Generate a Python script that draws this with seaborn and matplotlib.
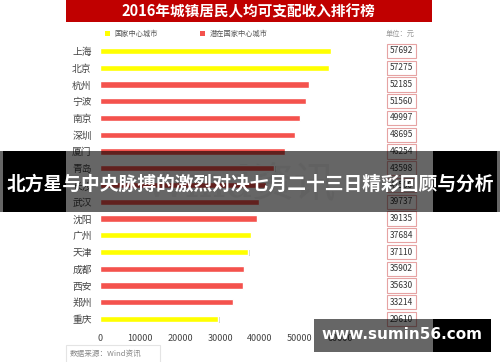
import matplotlib
matplotlib.use("Agg")
import matplotlib.pyplot as plt
import matplotlib.patheffects as pe
from matplotlib.patches import Rectangle
from matplotlib.transforms import blended_transform_factory
import pandas as pd
import seaborn as sns

cities = ["上海", "北京", "杭州", "宁波", "南京", "深圳", "厦门", "青岛", "长沙",
          "武汉", "沈阳", "广州", "天津", "成都", "西安", "郑州", "重庆"]
income = [57692, 57275, 52185, 51560, 49997, 48695, 46254, 43598, 41500,
          39737, 39135, 37684, 37110, 35902, 35630, 33214, 29610]
kind = ["国家中心城市", "国家中心城市", "潜在国家中心城市", "潜在国家中心城市",
        "潜在国家中心城市", "潜在国家中心城市", "潜在国家中心城市", "潜在国家中心城市",
        "潜在国家中心城市", "潜在国家中心城市", "潜在国家中心城市", "国家中心城市",
        "国家中心城市", "潜在国家中心城市", "潜在国家中心城市", "潜在国家中心城市",
        "国家中心城市"]
xticks = [0, 10000, 20000, 30000, 40000, 50000, 60000]

palette = {"国家中心城市": "#FFFF00", "潜在国家中心城市": "#F4524D"}

df = pd.DataFrame({"city": cities, "income": income, "kind": kind})

sns.set_style("white")
plt.rcParams["font.family"] = ["Noto Sans CJK SC", "DejaVu Sans"]

fig = plt.figure(figsize=(5.0, 3.62), dpi=100)
ax = fig.add_axes([0.2, 0.0956, 0.56, 0.7867])

sns.barplot(data=df, x="income", y="city", hue="kind", order=cities,
            palette=palette, dodge=False, width=0.36, ax=ax, legend=False,
            saturation=1)
for bar in ax.patches:
    bar.set_path_effects([pe.SimplePatchShadow(offset=(0.8, -0.8), shadow_rgbFace="#bbbbbb", alpha=0.7),
                          pe.Normal()])

ax.set_xlim(0, 70000)
ax.set_ylim(len(cities) - 0.5, -0.5)
ax.set_xticks(xticks)
ax.set_xticklabels([str(t) for t in xticks])
ax.set_xlabel("")
ax.set_ylabel("")
ax.tick_params(axis="x", length=0, pad=5, labelsize=6.5, labelcolor="#444444")
ax.tick_params(axis="y", length=0, pad=6, labelsize=7, labelcolor="#444444")
sns.despine(ax=ax, left=True, bottom=True)

# faint background watermark
ax.text(0.5, 0.5, "Wind资讯", transform=ax.transAxes, fontsize=30, color="#f2f2f2",
        ha="center", va="center", zorder=0, family=["DejaVu Serif", "Noto Sans CJK SC"])

#
# value boxes on the right
#
tr = blended_transform_factory(fig.transFigure, ax.transData)
for i, v in enumerate(income):
    ax.text(0.803, i, str(v), transform=tr, ha="center", va="center",
            fontsize=6, color="#333333", clip_on=False,
            bbox=dict(boxstyle="square,pad=0.32", fc="white", ec="#E6A3A3", lw=0.8))

#
# title bar, legend, unit
#
fig.patches.append(Rectangle((0.132, 0.939), 0.732, 0.061, transform=fig.transFigure,
                             fc="#C00000", ec="none", zorder=1))
fig.text(0.496, 0.969, "2016年城镇居民人均可支配收入排行榜", ha="center", va="center",
         fontsize=10.5, fontweight="bold", color="white", zorder=2)

fig.patches.append(Rectangle((0.210, 0.900), 0.010, 0.014, transform=fig.transFigure,
                             fc="#FFFF00", ec="none", zorder=1))
fig.text(0.229, 0.907, "国家中心城市", ha="left", va="center", fontsize=5.2, color="#555555")
fig.patches.append(Rectangle((0.400, 0.900), 0.010, 0.014, transform=fig.transFigure,
                             fc="#F4524D", ec="none", zorder=1))
fig.text(0.419, 0.907, "潜在国家中心城市", ha="left", va="center", fontsize=5.2, color="#555555")
fig.text(0.800, 0.905, "单位：元", ha="center", va="center", fontsize=5.2, color="#999999")

#
# source note
#
fig.patches.append(Rectangle((0.132, -0.01), 0.188, 0.058, transform=fig.transFigure,
                             fc="none", ec="#e4e4e4", lw=0.8, zorder=1))
fig.text(0.140, 0.022, "数据来源：Wind资讯", ha="left", va="center", fontsize=5.5,
         color="#888888", style="italic")

#
# overlay banner
#
fig.patches.append(Rectangle((0.0, 0.414), 1.0, 0.169, transform=fig.transFigure,
                             fc="black", alpha=0.6, ec="none", zorder=5))
fig.patches.append(Rectangle((0.006, 0.414), 0.126, 0.169, transform=fig.transFigure,
                             fc="black", ec="none", zorder=5))
fig.patches.append(Rectangle((0.866, 0.414), 0.128, 0.169, transform=fig.transFigure,
                             fc="black", ec="none", zorder=5))
fig.text(0.5, 0.49, "北方星与中央脉搏的激烈对决七月二十三日精彩回顾与分析", ha="center",
         va="center", fontsize=13.5, fontweight="bold", color="white", zorder=6)

#
# site watermark
#
fig.patches.append(Rectangle((0.628, 0.028), 0.238, 0.091, transform=fig.transFigure,
                             fc="black", alpha=0.6, ec="none", zorder=5))
fig.patches.append(Rectangle((0.866, 0.028), 0.116, 0.091, transform=fig.transFigure,
                             fc="black", ec="none", zorder=5))
fig.text(0.804, 0.075, "www.sumin56.com", ha="center", va="center", fontsize=11,
         fontweight="bold", color="white", zorder=6, family=["DejaVu Sans"])

fig.savefig("out.png", dpi=100)
